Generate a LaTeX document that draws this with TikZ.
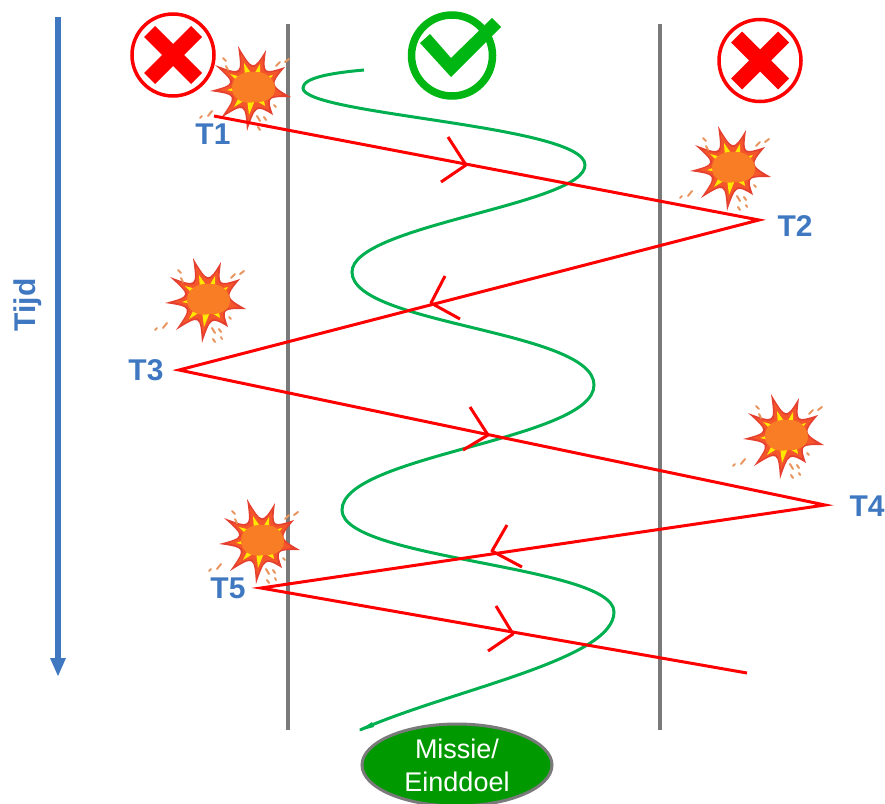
\documentclass[tikz,border=0pt]{standalone}
\usepackage{fontspec}
\setmainfont{Liberation Sans}
\usetikzlibrary{shapes.geometric}
\definecolor{tblue}{HTML}{3F78C1}
\definecolor{tgrey}{HTML}{7A7A7A}
\definecolor{tgreen}{HTML}{00AF50}
\definecolor{cgreen}{HTML}{00B613}
\definecolor{ellg}{HTML}{009A00}
\definecolor{bred}{HTML}{F4552A}
\definecolor{bdark}{HTML}{E5402F}
\definecolor{byel}{HTML}{FFE800}
\definecolor{bor}{HTML}{F97D24}
\definecolor{fleck}{HTML}{E9955F}
\tikzset{
  x=1pt,y=-1pt,
  divider/.style={draw=tgrey,line width=3.2pt},
  redpath/.style={draw=red,line width=3pt,line join=miter,miter limit=20},
  chevron/.style={draw=red,line width=3pt,line join=round},
  wave/.style={draw=tgreen,line width=3pt},
  tlabel/.style={text=tblue,font=\bfseries\fontsize{30}{30}\selectfont,inner sep=0pt},
  goal/.style={ellipse,draw=tgrey,line width=3pt,fill=ellg,text=white,minimum width=190pt,minimum height=82pt,inner sep=0pt,align=center,font=\fontsize{27}{33}\selectfont},
  fleckline/.style={draw=fleck,line width=2pt,line cap=round},
  boom/.pic={
    \fill[bdark] (-43,3) .. controls (-17,-4) .. (-38,-23) .. controls (-11,-13) .. (-15,-42)
      .. controls (0,-17) .. (13,-38) .. controls (10,-14) .. (32,-21)
      .. controls (17,-3) .. (38,9) .. controls (14,9) .. (20,27)
      .. controls (3,17) .. (-6,43) .. controls (-8,15) .. (-32,30) .. controls (-16,7) .. (-43,3) -- cycle;
    \fill[bred] (-34,2) .. controls (-17,-4) .. (-30,-18) .. controls (-11,-13) .. (-12,-34)
      .. controls (0,-17) .. (10,-30) .. controls (10,-14) .. (26,-17)
      .. controls (17,-3) .. (30,7) .. controls (14,9) .. (16,22)
      .. controls (3,17) .. (-5,34) .. controls (-8,15) .. (-26,24) .. controls (-16,7) .. (-34,2) -- cycle;
    \fill[byel] (-26,2) -- (-12,-3) -- (-23,-14) -- (-8,-10) -- (-9,-25) -- (0,-12) -- (7,-24) -- (7,-10)
      -- (20,-13) -- (12,-2) -- (14,9) -- (10,7) -- (12,18) -- (2,12) -- (-4,27) -- (-6,11) -- (-19,19) -- (-12,5) -- cycle;
    \fill[bor] (-21,0) .. controls (-21,-12) and (-9,-17) .. (1,-16)
      .. controls (14,-17) and (22,-8) .. (22,1) .. controls (22,11) and (10,15) .. (1,14)
      .. controls (-9,17) and (-21,11) .. (-21,0) -- cycle;
    \draw[fleckline] (-30,-30) -- (-27,-27) (-27,-22) -- (-25,-18) (23,-22) -- (27,-26) (32,-26) -- (36,-29)
      (-53,30) -- (-51,28) (-45,28) -- (-41,23) (4,28) -- (7,33) (11,29) -- (13,32) (5,39) -- (7,42)
      (13,37) -- (14,39) (21,17) -- (23,19);
  }
}
\begin{document}
\begin{tikzpicture}
\useasboundingbox (0,0) rectangle (885,803);
% time axis
\coordinate (axS) at (58,17);
\coordinate (axE) at (58,660);
\draw[draw=tblue,line width=5.5pt] (axS) -- (axE);
\fill[tblue] (50,658) -- (66,658) -- (58,676) -- cycle;
\node[tlabel,rotate=90] (tijd) at (28,305) {Tijd};
% dividers
\coordinate (d1a) at (288,24); \coordinate (d1b) at (288,730);
\coordinate (d2a) at (660,24); \coordinate (d2b) at (660,730);
\draw[divider] (d1a) -- (d1b);
\draw[divider] (d2a) -- (d2b);
% cross icons
\foreach \cx/\cy in {173/55,760/60.5}{
  \begin{scope}[shift={(\cx,\cy)}]
    \draw[draw=red,line width=3.5pt] (0,0) circle[radius=41];
    \fill[red] (-29,-18) -- (-18,-29) -- (0,-11) -- (18,-29) -- (29,-18) -- (11,0) -- (29,18) -- (18,29)
      -- (0,11) -- (-18,29) -- (-29,18) -- (-11,0) -- cycle;
  \end{scope}
}
% check icon
\draw[draw=cgreen,line width=7.5pt] (452,55.5) circle[radius=40.5];
\fill[cgreen] (430,34) -- (420,43) -- (451,77) -- (501,27) -- (492,18) -- (451,58) -- cycle;
% explosions
\pic at (253,88) {boom};
\pic at (733,168) {boom};
\pic at (208,300) {boom};
\pic at (786,436) {boom};
\pic at (262,541) {boom};
% green wave
\coordinate (wS) at (364,70);
\coordinate (wE) at (360,730);
\draw[wave] (wS) .. controls (330,73) and (303,78) .. (303,88)
  .. controls (303,115) and (585,125) .. (585,165)
  .. controls (585,205) and (352,225) .. (352,272)
  .. controls (352,325) and (594,330) .. (594,385)
  .. controls (594,440) and (342,455) .. (342,510)
  .. controls (342,560) and (614,565) .. (614,612)
  .. controls (614,660) and (450,690) .. (wE);
\fill[tgreen] (359,731) -- (372,722) -- (374,727) -- cycle;
% red zigzag
\coordinate (p1) at (214,116);
\coordinate (p2) at (759,220);
\coordinate (p3) at (179,370);
\coordinate (p4) at (825,505);
\coordinate (p5) at (261,588);
\coordinate (p6) at (747,673);
\draw[redpath] (p1) -- (p2) -- (p3) -- (p4) -- (p5) -- (p6);
% chevrons
\draw[chevron] (448,137) -- (466,165) -- (441,182);
\draw[chevron] (445,276) -- (431,303) -- (460,319);
\draw[chevron] (470,407) -- (488,435) -- (463,450);
\draw[chevron] (507,525) -- (492,551) -- (522,567);
\draw[chevron] (496,606) -- (513,634) -- (488,651);
% labels
\node[tlabel] (t1) at (213,134) {T1};
\node[tlabel] (t2) at (795,226) {T2};
\node[tlabel] (t3) at (146,370) {T3};
\node[tlabel] (t4) at (867,506) {T4};
\node[tlabel] (t5) at (228,588) {T5};
% goal
\node[goal] (goal) at (457,765) {Missie/\\Einddoel};
\end{tikzpicture}
\end{document}
